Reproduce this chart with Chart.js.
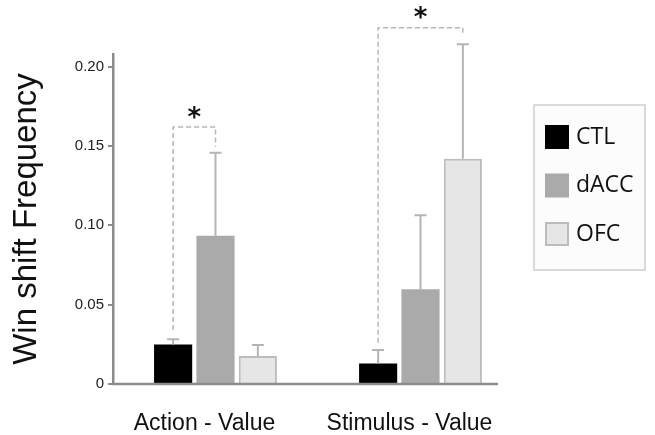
<!DOCTYPE html>
<html>
<head>
<meta charset="utf-8">
<script src="https://cdn.jsdelivr.net/npm/chart.js@4.4.1/dist/chart.umd.min.js"></script>
<style>
html,body{margin:0;padding:0;background:#fff;}
#wrap{width:655px;height:435px;position:relative;}
</style>
</head>
<body>
<div id="wrap"><canvas id="c" width="655" height="435"></canvas></div>
<script>
const categories = ['Action - Value', 'Stimulus - Value'];
const seriesLabels = ['CTL', 'dACC', 'OFC'];
const ctlValues = [0.0249, 0.0130];
const daccValues = [0.0935, 0.0597];
const ofcValues = [0.0177, 0.1420];
const ctlErr = [0.0033, 0.0084];
const daccErr = [0.0523, 0.0466];
const ofcErr = [0.0069, 0.0721];
const yTicks = [0, 0.05, 0.10, 0.15, 0.20];
const yTickLabels = ['0', '0.05', '0.10', '0.15', '0.20'];
// significance brackets
const bracketGroup = [0, 1];
const bracketFrom = [0, 0];
const bracketTo = [1, 2];
const bracketLeftBase = [0.034, 0.026];
const bracketTop = [0.162, 0.2246];
const bracketRightBase = [0.1496, 0.221];
const bracketText = ['*', '*'];

const errors = [ctlErr, daccErr, ofcErr];

const errorBarPlugin = {
  id: 'errorBars',
  afterDatasetsDraw(chart) {
    const ctx = chart.ctx;
    const y = chart.scales.y;
    ctx.save();
    ctx.strokeStyle = '#b4b4b4';
    ctx.lineWidth = 2;
    chart.data.datasets.forEach((ds, d) => {
      const meta = chart.getDatasetMeta(d);
      meta.data.forEach((bar, i) => {
        const v = ds.data[i];
        const top = y.getPixelForValue(v + errors[d][i]);
        const base = y.getPixelForValue(v);
        ctx.beginPath();
        ctx.moveTo(bar.x, base);
        ctx.lineTo(bar.x, top);
        ctx.moveTo(bar.x - 6, top);
        ctx.lineTo(bar.x + 6, top);
        ctx.stroke();
      });
    });
    // brackets
    ctx.strokeStyle = '#b8b8b8';
    ctx.lineWidth = 1.5;
    ctx.setLineDash([5, 3]);
    bracketGroup.forEach((g, k) => {
      const x1 = chart.getDatasetMeta(bracketFrom[k]).data[g].x;
      const x2 = chart.getDatasetMeta(bracketTo[k]).data[g].x;
      const yl = y.getPixelForValue(bracketLeftBase[k]);
      const yt = y.getPixelForValue(bracketTop[k]);
      const yr = y.getPixelForValue(bracketRightBase[k]);
      ctx.beginPath();
      ctx.moveTo(x1, yl);
      ctx.lineTo(x1, yt);
      ctx.lineTo(x2, yt);
      ctx.lineTo(x2, yr);
      ctx.stroke();
    });
    ctx.setLineDash([]);
    ctx.fillStyle = '#111';
    ctx.font = 'bold 26px "DejaVu Sans"';
    ctx.textAlign = 'center';
    ctx.textBaseline = 'middle';
    bracketGroup.forEach((g, k) => {
      const x1 = chart.getDatasetMeta(bracketFrom[k]).data[g].x;
      const x2 = chart.getDatasetMeta(bracketTo[k]).data[g].x;
      const yt = y.getPixelForValue(bracketTop[k]);
      ctx.fillText(bracketText[k], (x1 + x2) / 2, yt - 8);
    });
    // x axis line, ending a little past the last bar
    const lastMeta = chart.getDatasetMeta(chart.data.datasets.length - 1);
    const lastBar = lastMeta.data[lastMeta.data.length - 1];
    const xEnd = lastBar.x + lastBar.width / 2 + 16;
    ctx.strokeStyle = '#8c8c8c';
    ctx.lineWidth = 2.5;
    ctx.beginPath();
    ctx.moveTo(chart.chartArea.left - 1, chart.chartArea.bottom);
    ctx.lineTo(xEnd, chart.chartArea.bottom);
    ctx.stroke();
    ctx.restore();
  }
};

const legendPlugin = {
  id: 'boxLegend',
  afterDraw(chart) {
    const ctx = chart.ctx;
    ctx.save();
    const bx = 534, by = 105, bw = 111, bh = 165;
    ctx.fillStyle = '#fcfcfc';
    ctx.fillRect(bx, by, bw, bh);
    ctx.strokeStyle = '#dadada';
    ctx.lineWidth = 2;
    ctx.strokeRect(bx, by, bw, bh);
    ctx.font = '23px "Open Sans"';
    ctx.textAlign = 'left';
    ctx.textBaseline = 'middle';
    chart.data.datasets.forEach((ds, i) => {
      const sy = 125 + i * 48.5;
      ctx.fillStyle = ds.backgroundColor;
      ctx.fillRect(545, sy, 24, 24);
      if (ds.borderWidth) {
        ctx.strokeStyle = ds.borderColor;
        ctx.lineWidth = 2;
        ctx.strokeRect(546, sy + 1, 22, 22);
      }
      ctx.fillStyle = '#111';
      ctx.fillText(ds.label, 576, sy + 12);
    });
    ctx.restore();
  }
};

new Chart(document.getElementById('c'), {
  type: 'bar',
  data: {
    labels: categories,
    datasets: [
      { label: seriesLabels[0], data: ctlValues, backgroundColor: '#000000', borderWidth: 0 },
      { label: seriesLabels[1], data: daccValues, backgroundColor: '#aaaaaa', borderWidth: 0 },
      { label: seriesLabels[2], data: ofcValues, backgroundColor: '#e6e6e6', borderColor: '#bcbcbc', borderWidth: 2 }
    ]
  },
  options: {
    responsive: false,
    animation: false,
    layout: { padding: { top: 54, right: 132, left: 0, bottom: 0 } },
    barPercentage: 0.9,
    categoryPercentage: 0.62,
    plugins: { legend: { display: false }, tooltip: { enabled: false } },
    scales: {
      x: {
        grid: { display: false },
        border: { display: false },
        ticks: { color: '#111', font: { family: 'Liberation Sans', size: 23 }, padding: 18, labelOffset: -11, maxRotation: 0 },
        afterFit(scale) { scale.height = 51; }
      },
      y: {
        min: 0,
        max: 0.208,
        bounds: 'data',
        afterBuildTicks(scale) { scale.ticks = yTicks.map(v => ({ value: v })); },
        ticks: {
          color: '#222',
          font: { family: 'Liberation Sans', size: 15 },
          padding: 4,
          callback: (v) => yTickLabels[yTicks.indexOf(v)] ?? ''
        },
        grid: { drawOnChartArea: false, drawTicks: true, tickLength: 5, color: '#8c8c8c', lineWidth: 2 },
        border: { display: true, color: '#8c8c8c', width: 2.5 },
        title: { display: true, text: 'Win shift Frequency', color: '#111', font: { family: 'Liberation Sans', size: 33 }, padding: { top: 7, bottom: 0 } },
        afterFit(scale) { scale.width = 113; }
      }
    }
  },
  plugins: [errorBarPlugin, legendPlugin]
});
</script>
</body>
</html>
